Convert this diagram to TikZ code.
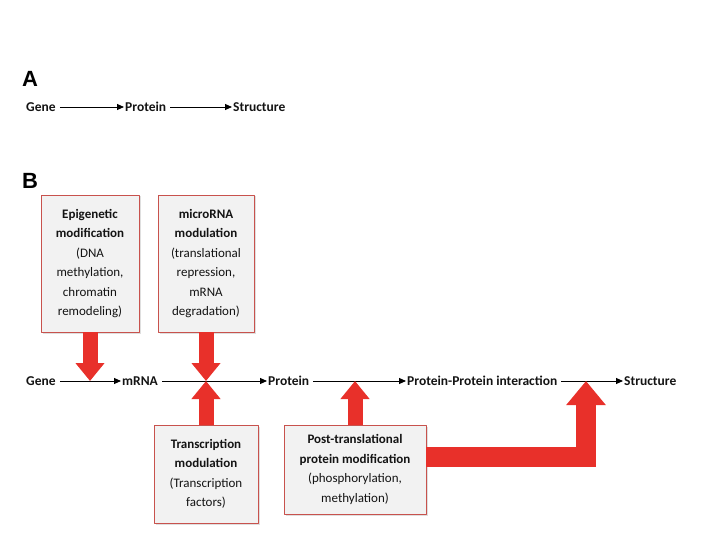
\documentclass[tikz,border=0pt]{standalone}
\usepackage{fontspec}
\setmainfont{Carlito}
\newfontfamily\panelfont{Liberation Sans}
\usetikzlibrary{arrows.meta,positioning,shadows}
\definecolor{epiRed}{HTML}{E8302A}
\definecolor{epiFrame}{HTML}{C8524D}
\definecolor{epiGrey}{HTML}{F2F2F2}
\definecolor{epiInk}{HTML}{141414}

\begin{document}
\begin{tikzpicture}[x=1pt,y=-1pt,>=Latex,line join=round]
\path[fill=white] (0,0) rectangle (720,540);
\tikzset{term/.style={inner sep=1pt,text=epiInk,font=\bfseries\fontsize{13.5}{16}\selectfont},
  flow/.style={draw=black,line width=0.9pt,shorten <=3pt,-{Triangle[length=7pt,width=6pt]}},
  factor/.style={draw=epiFrame,fill=epiGrey,line width=0.9pt,align=center,inner sep=0pt,text=epiInk,font=\fontsize{13}{19.5}\selectfont,drop shadow={opacity=0.25,shadow xshift=1.5pt,shadow yshift=-1.5pt}},
  push/.style={draw=epiRed,line width=15pt,-{Triangle[length=18pt,width=28pt]}},
  panel/.style={font=\panelfont\bfseries\fontsize{22}{24}\selectfont,text=black}}
% panel A
\node[panel] (labA) at (30,79) {A};
\node[term,anchor=west] (geneA) at (25,107) {Gene};
\node[term,anchor=west] (protA) at (124,107) {Protein};
\node[term,anchor=west] (strA) at (232,107) {Structure};
\draw[flow] (geneA) -- (protA); \draw[flow] (protA) -- (strA);
% panel B
\node[panel] (labB) at (30,181) {B};
\node[term,anchor=west] (geneB) at (25,381) {Gene};
\node[term,anchor=west] (mrna) at (121,381) {mRNA};
\node[term,anchor=west] (protB) at (267,381) {Protein};
\node[term,anchor=west] (ppi) at (406,381) {Protein-Protein interaction};
\node[term,anchor=west] (strB) at (623,381) {Structure};
\draw[flow] (geneB) -- (mrna); \draw[flow] (mrna) -- (protB);
\draw[flow] (protB) -- (ppi); \draw[flow] (ppi) -- (strB);
\node[factor,minimum width=98pt,minimum height=137pt] (epi) at (90,263.5) {\textbf{Epigenetic}\\\textbf{modification}\\(DNA\\methylation,\\chromatin\\remodeling)};
\node[factor,minimum width=96pt,minimum height=137pt] (mir) at (206,263.5) {\textbf{microRNA}\\\textbf{modulation}\\(translational\\repression,\\mRNA\\degradation)};
\node[factor,minimum width=104pt,minimum height=98pt] (tra) at (206,474) {\textbf{Transcription}\\\textbf{modulation}\\(Transcription\\factors)};
\node[factor,minimum width=142pt,minimum height=89pt] (post) at (355,469.5) {\textbf{Post-translational}\\\textbf{protein modification}\\(phosphorylation,\\methylation)};
\coordinate (joinS) at (586,381);
% red influence arrows
\draw[push] (epi.south) -- (epi.south |- mrna);
\draw[push] (mir.south) -- (mir.south |- mrna);
\draw[push] (tra.north) -- (tra.north |- mrna);
\draw[push] (post.north) -- (post.north |- protB);
\draw[push,line width=20pt,line join=miter,-{Triangle[length=24pt,width=38pt]}] ([yshift=13pt]post.east) -| (joinS);
\end{tikzpicture}
\end{document}
